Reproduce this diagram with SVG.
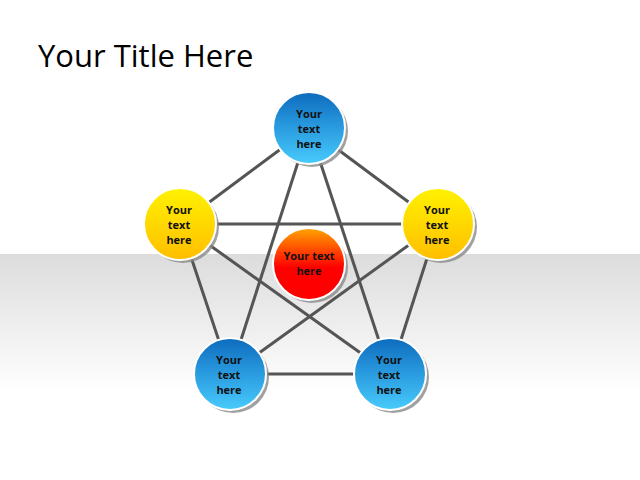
<svg xmlns="http://www.w3.org/2000/svg" width="640" height="480" viewBox="0 0 640 480">
<defs>
<linearGradient id="bg" x1="0" y1="0" x2="0" y2="1">
<stop offset="0" stop-color="#dcdcdc"/>
<stop offset="1" stop-color="#ffffff"/>
</linearGradient>
<linearGradient id="blue" x1="0" y1="0" x2="0" y2="1">
<stop offset="0" stop-color="#0d6bbd"/>
<stop offset="0.5" stop-color="#2a9ce0"/>
<stop offset="1" stop-color="#48cbfc"/>
</linearGradient>
<linearGradient id="yellow" x1="0" y1="0" x2="0" y2="1">
<stop offset="0" stop-color="#fff200"/>
<stop offset="1" stop-color="#ffbe00"/>
</linearGradient>
<linearGradient id="red" x1="0" y1="0" x2="0" y2="1">
<stop offset="0" stop-color="#ffa500"/>
<stop offset="0.55" stop-color="#ff0000"/>
<stop offset="1" stop-color="#ff0000"/>
</linearGradient>
</defs>
<style>
.shadow{fill:#8a8a8a;opacity:0.8}
.ring{stroke:#ffffff;stroke-width:2}
.lbl{font-family:"Open Sans","Liberation Sans",sans-serif;font-weight:bold;font-size:11px;fill:#111;text-anchor:middle}
.conn line{stroke:#555555;stroke-width:3}
</style>
<rect x="0" y="0" width="640" height="480" fill="#ffffff"/>
<rect x="0" y="254" width="640" height="140" fill="url(#bg)"/>
<text x="38" y="67" font-family="Open Sans, Liberation Sans, sans-serif" font-size="31" fill="#000">Your Title Here</text>
<g class="conn" id="connectors">
<line x1="309" y1="128" x2="180" y2="224"/>
<line x1="309" y1="128" x2="438" y2="224"/>
<line x1="180" y1="224" x2="230" y2="374"/>
<line x1="438" y1="224" x2="390" y2="374"/>
<line x1="230" y1="374" x2="390" y2="374"/>
<line x1="309" y1="128" x2="230" y2="374"/>
<line x1="309" y1="128" x2="390" y2="374"/>
<line x1="180" y1="224" x2="438" y2="224"/>
<line x1="180" y1="224" x2="390" y2="374"/>
<line x1="438" y1="224" x2="230" y2="374"/>
</g>
<g id="node-top">
<circle class="shadow" cx="312" cy="131" r="36"/>
<circle class="ring" cx="309" cy="128" r="36" fill="url(#blue)"/>
<text class="lbl" x="309" y="118">Your</text>
<text class="lbl" x="309" y="133">text</text>
<text class="lbl" x="309" y="148">here</text>
</g>
<g id="node-left">
<circle class="shadow" cx="183" cy="227" r="36"/>
<circle class="ring" cx="180" cy="224" r="36" fill="url(#yellow)"/>
<text class="lbl" x="179" y="214">Your</text>
<text class="lbl" x="179" y="229">text</text>
<text class="lbl" x="179" y="244">here</text>
</g>
<g id="node-right">
<circle class="shadow" cx="441" cy="227" r="36"/>
<circle class="ring" cx="438" cy="224" r="36" fill="url(#yellow)"/>
<text class="lbl" x="437" y="214">Your</text>
<text class="lbl" x="437" y="229">text</text>
<text class="lbl" x="437" y="244">here</text>
</g>
<g id="node-center">
<circle class="shadow" cx="312" cy="267" r="36"/>
<circle class="ring" cx="309" cy="264" r="36" fill="url(#red)"/>
<text class="lbl" x="309" y="260">Your text</text>
<text class="lbl" x="309" y="275">here</text>
</g>
<g id="node-bottom-left">
<circle class="shadow" cx="233" cy="377" r="36"/>
<circle class="ring" cx="230" cy="374" r="36" fill="url(#blue)"/>
<text class="lbl" x="229" y="364">Your</text>
<text class="lbl" x="229" y="379">text</text>
<text class="lbl" x="229" y="394">here</text>
</g>
<g id="node-bottom-right">
<circle class="shadow" cx="393" cy="377" r="36"/>
<circle class="ring" cx="390" cy="374" r="36" fill="url(#blue)"/>
<text class="lbl" x="389" y="364">Your</text>
<text class="lbl" x="389" y="379">text</text>
<text class="lbl" x="389" y="394">here</text>
</g>
</svg>
